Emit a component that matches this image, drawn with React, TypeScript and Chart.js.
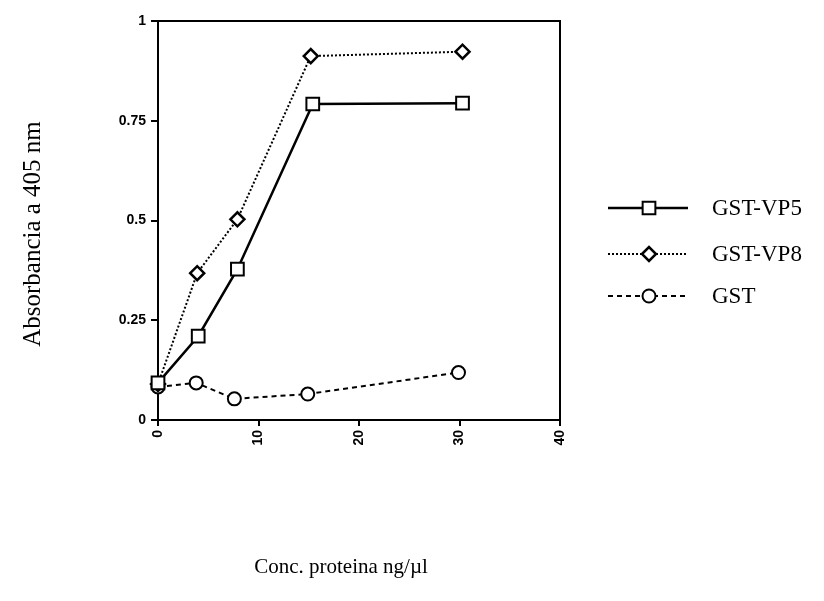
import React, { useEffect, useRef } from "react";
import { Chart, registerables } from "chart.js";

Chart.register(...registerables);

// Data
const seriesNames = ["GST-VP5", "GST-VP8", "GST"];
const concVP5 = [0, 4, 7.9, 15.4, 30.3];
const absVP5 = [0.093, 0.21, 0.378, 0.792, 0.794];
const concVP8 = [0, 3.9, 7.9, 15.2, 30.3];
const absVP8 = [0.09, 0.368, 0.503, 0.912, 0.923];
const concGST = [0, 3.8, 7.6, 14.9, 29.9];
const absGST = [0.083, 0.093, 0.053, 0.065, 0.119];
const xTicks = [0, 10, 20, 30, 40];
const yTicks = [0, 0.25, 0.5, 0.75, 1];
const xTitle = "Conc. proteina ng/\u00b5l";
const yTitle = "Absorbancia a 405 nm";

const toPoints = (xs: number[], ys: number[]) => xs.map((x, i) => ({ x, y: ys[i] }));

const serif = "'Liberation Serif', 'Times New Roman', serif";
const sans = "'Liberation Sans', Arial, sans-serif";

function drawMarker(ctx: CanvasRenderingContext2D, style: string, x: number, y: number, r: number, bw: number) {
  ctx.save();
  ctx.beginPath();
  if (style === "rect") {
    const s = Math.SQRT1_2 * r;
    ctx.rect(x - s, y - s, 2 * s, 2 * s);
  } else if (style === "rectRot") {
    ctx.moveTo(x - r, y);
    ctx.lineTo(x, y - r);
    ctx.lineTo(x + r, y);
    ctx.lineTo(x, y + r);
    ctx.closePath();
  } else {
    ctx.arc(x, y, r, 0, Math.PI * 2);
  }
  ctx.setLineDash([]);
  ctx.fillStyle = "#fff";
  ctx.fill();
  ctx.lineWidth = bw;
  ctx.strokeStyle = "#000";
  ctx.stroke();
  ctx.restore();
}

const styles = [
  { dash: [] as number[], width: 2.5, point: "rect", radius: 9, pbw: 2 },
  { dash: [2, 2], width: 2, point: "rectRot", radius: 7, pbw: 2.5 },
  { dash: [5, 4], width: 2, point: "circle", radius: 6.5, pbw: 2 },
];

const decorPlugin = {
  id: "decor",
  afterDraw(chart: any) {
    const ctx: CanvasRenderingContext2D = chart.ctx;
    const a = chart.chartArea;
    ctx.save();
    // box top & right
    ctx.strokeStyle = "#000";
    ctx.lineWidth = 2;
    ctx.setLineDash([]);
    ctx.beginPath();
    ctx.moveTo(a.left, a.top);
    ctx.lineTo(a.right, a.top);
    ctx.lineTo(a.right, a.bottom);
    ctx.stroke();

    // axis titles
    ctx.fillStyle = "#000";
    ctx.font = `21px ${serif}`;
    ctx.textAlign = "center";
    ctx.textBaseline = "middle";
    ctx.fillText(xTitle, 341, 567);
    ctx.save();
    ctx.font = `25px ${serif}`;
    ctx.translate(33, 234);
    ctx.rotate(-Math.PI / 2);
    ctx.fillText(yTitle, 0, 0);
    ctx.restore();

    // legend
    const rows = [208, 254, 296];
    ctx.font = `23px ${serif}`;
    ctx.textAlign = "left";
    styles.forEach((s, i) => {
      const y = rows[i];
      ctx.beginPath();
      ctx.setLineDash(s.dash);
      ctx.lineWidth = s.width;
      ctx.moveTo(608, y);
      ctx.lineTo(688, y);
      ctx.stroke();
      drawMarker(ctx, s.point, 649, y, s.radius, s.pbw);
      ctx.fillStyle = "#000";
      ctx.fillText(seriesNames[i], 712, y + 1);
    });
    ctx.restore();
  },
};

export default function App() {
  const ref = useRef<HTMLCanvasElement | null>(null);
  useEffect(() => {
    if (!ref.current) return;
    const datasets = [
      toPoints(concVP5, absVP5),
      toPoints(concVP8, absVP8),
      toPoints(concGST, absGST),
    ].map((data, i) => ({
      label: seriesNames[i],
      data,
      showLine: true,
      borderColor: "#000",
      borderWidth: styles[i].width,
      borderDash: styles[i].dash,
      pointStyle: styles[i].point,
      pointRadius: styles[i].radius,
      pointBorderWidth: styles[i].pbw,
      pointBackgroundColor: "#fff",
      pointBorderColor: "#000",
      clip: false,
    }));
    const chart = new Chart(ref.current, {
      type: "scatter",
      data: { datasets },
      plugins: [decorPlugin],
      options: {
        animation: false,
        responsive: false,
        events: [],
        layout: { padding: { left: 0, top: 21, right: 264, bottom: 0 } },
        plugins: { legend: { display: false }, tooltip: { enabled: false } },
        scales: {
          x: {
            type: "linear",
            min: 0,
            max: 40,
            afterBuildTicks: (s: any) => {
              s.ticks = xTicks.map((v) => ({ value: v }));
            },
            afterFit: (s: any) => {
              s.height = 181;
            },
            ticks: {
              color: "#000",
              font: { family: sans, size: 14, weight: "bold" },
              minRotation: 90,
              maxRotation: 90,
              padding: 4,
              callback: (v: any) => String(v),
            },
            grid: { drawOnChartArea: false, drawTicks: true, tickLength: 6, color: "#000", lineWidth: 2 },
            border: { color: "#000", width: 2 },
          },
          y: {
            type: "linear",
            min: 0,
            max: 1,
            afterBuildTicks: (s: any) => {
              s.ticks = yTicks.map((v) => ({ value: v }));
            },
            afterFit: (s: any) => {
              s.width = 158;
            },
            ticks: {
              color: "#000",
              font: { family: sans, size: 14, weight: "bold" },
              padding: 5,
              callback: (v: any) => String(v),
            },
            grid: { drawOnChartArea: false, drawTicks: true, tickLength: 7, color: "#000", lineWidth: 2 },
            border: { color: "#000", width: 2 },
          },
        },
      },
    } as any);
    return () => chart.destroy();
  }, []);
  return (
    <div style={{ position: "fixed", left: 0, top: 0, width: 824, height: 601, background: "#fff" }}>
      <canvas ref={ref} width={824} height={601} style={{ display: "block" }} />
    </div>
  );
}
